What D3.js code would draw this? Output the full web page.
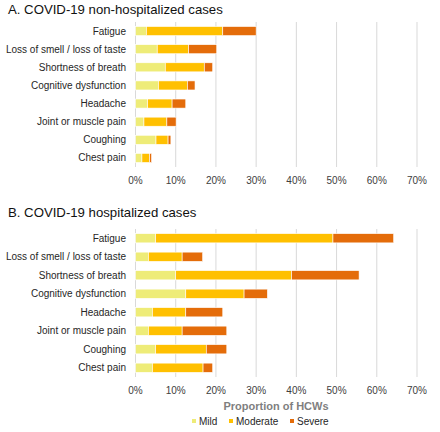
<!DOCTYPE html>
<html><head><meta charset="utf-8">
<script src="https://cdn.jsdelivr.net/npm/d3@7"></script>
<style>
body{margin:0;background:#fff;}
svg{display:block;font-family:"Liberation Sans",Arial,sans-serif;}
</style></head>
<body><svg id="c" width="440" height="432"></svg>
<script>
const categories = ["Fatigue","Loss of smell / loss of taste","Shortness of breath","Cognitive dysfunction","Headache","Joint or muscle pain","Coughing","Chest pain"];
const seriesNames = ["Mild","Moderate","Severe"];
const colors = ["#EEEC78","#FFC000","#E46C0A"];
const aMild = [2.7,5.4,7.4,5.7,3.0,2.1,5.1,1.6];
const aModerate = [19.0,7.8,9.7,7.2,6.1,5.7,3.0,1.9];
const aSevere = [8.3,7.0,2.1,1.9,3.4,2.3,0.7,0.5];
const bMild = [5.0,3.2,10.0,12.5,4.2,3.2,5.0,4.2];
const bModerate = [44.1,8.4,28.8,14.5,8.3,8.4,12.6,12.6];
const bSevere = [15.1,5.1,16.8,5.8,9.2,11.1,5.1,2.4];
const tickValues = [0,10,20,30,40,50,60,70];
const titleA = "A. COVID-19 non-hospitalized cases";
const titleB = "B. COVID-19 hospitalized cases";
const axisTitle = "Proportion of HCWs";

const svg = d3.select("#c");
const x = d3.scaleLinear().domain([0,70]).range([135.5,417]);

function panel(title, titleY, gTop, gBottom, tickY, mild, moderate, severe){
  svg.append("text").attr("x",8).attr("y",titleY).attr("font-size",13.2).attr("fill","#111").text(title);
  const y = d3.scaleBand().domain(categories).range([gTop,gBottom]).paddingInner(0.5).paddingOuter(0.25);
  svg.append("g").selectAll("line").data(tickValues).join("line")
    .attr("x1",d=>x(d)).attr("x2",d=>x(d)).attr("y1",gTop).attr("y2",gBottom)
    .attr("stroke","#d9d9d9").attr("stroke-width",1);
  const stackData = categories.map((c,i)=>({cat:c, Mild:mild[i], Moderate:moderate[i], Severe:severe[i]}));
  const stacked = d3.stack().keys(seriesNames)(stackData);
  stacked.forEach((layer,k)=>{
    svg.append("g").selectAll("rect").data(layer).join("rect")
      .attr("x",d=>x(d[0])).attr("width",d=>Math.max(0,x(d[1])-x(d[0])))
      .attr("y",d=>y(d.data.cat)).attr("height",y.bandwidth())
      .attr("fill",colors[k]).attr("stroke","#fff").attr("stroke-width",0.6);
  });
  svg.append("g").selectAll("text").data(categories).join("text")
    .attr("x",126).attr("y",d=>y(d)+y.bandwidth()/2).attr("dy","0.35em")
    .attr("text-anchor","end").attr("font-size",10).attr("fill","#262626").text(d=>d);
  svg.append("g").selectAll("text").data(tickValues).join("text")
    .attr("x",d=>x(d)).attr("y",tickY).attr("dy","0.35em").attr("text-anchor","middle")
    .attr("font-size",10).attr("fill","#404040").text(d=>d+"%");
}

panel(titleA, 14, 22, 167, 180, aMild, aModerate, aSevere);
panel(titleB, 217, 229, 377, 390, bMild, bModerate, bSevere);

svg.append("text").attr("x",276).attr("y",406).attr("dy","0.35em").attr("text-anchor","middle")
  .attr("font-size",11).attr("font-weight","bold").attr("fill","#7f7f7f").text(axisTitle);

const legX = [195,232,293];
const leg = svg.append("g");
seriesNames.forEach((s,i)=>{
  leg.append("rect").attr("x",legX[i]-3).attr("y",419).attr("width",4).attr("height",4).attr("fill",colors[i]);
  leg.append("text").attr("x",legX[i]+4).attr("y",421).attr("dy","0.35em").attr("font-size",10).attr("fill","#262626").text(s);
});
</script></body></html>
